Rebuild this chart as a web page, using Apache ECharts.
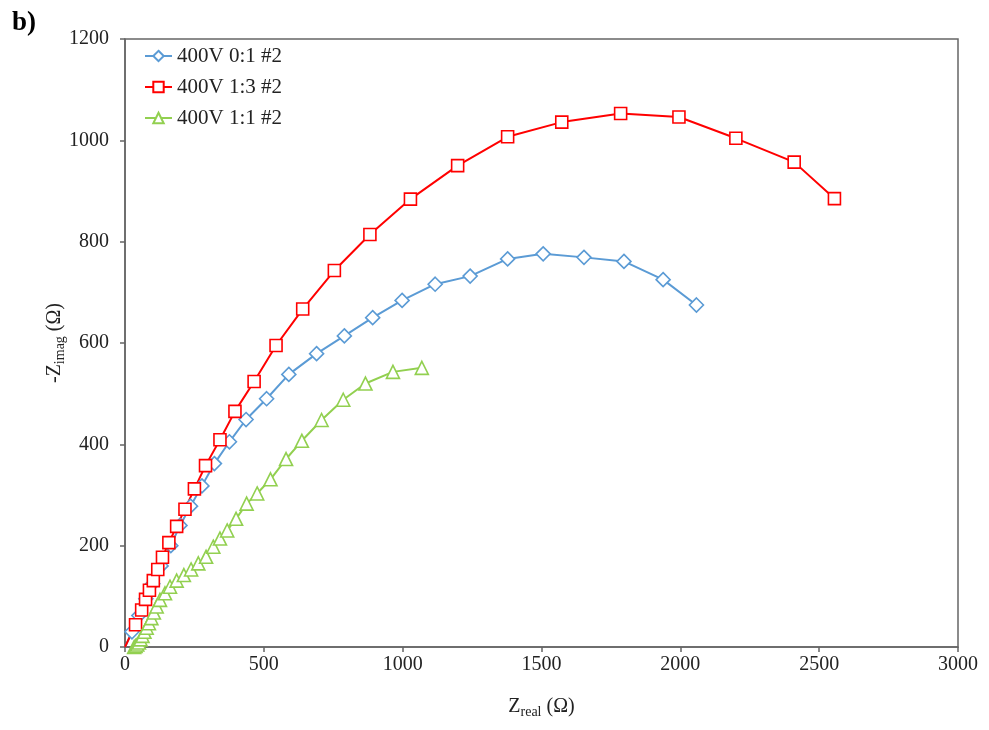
<!DOCTYPE html>
<html>
<head>
<meta charset="utf-8">
<script src="https://cdn.jsdelivr.net/npm/echarts@6/dist/echarts.min.js"></script>
<style>
html,body{margin:0;padding:0;background:#fff;}
#c{width:989px;height:730px;}
</style>
</head>
<body>
<div id="c"></div>
<script>
const seriesNames = ['400V 0:1 #2', '400V 1:3 #2', '400V 1:1 #2'];
const blueData = [[0,0],[25,30],[50,62],[75,95],[100,125],[130,160],[165,200],[198,240],[236,278],[277,318],[322,362],[376,405],[436,449],[510,490],[590,538],[690,579],[790,614],[892,650],[998,684],[1117,716],[1243,732],[1378,766],[1506,776],[1653,769],[1797,761],[1938,725],[2058,675]];
const redData = [[0,0],[38,44],[60,73],[74,94],[88,112],[102,131],[118,153],[135,177],[158,206],[186,238],[216,272],[250,312],[290,358],[342,409],[396,465],[465,524],[544,595],[640,667],[754,743],[882,814],[1028,884],[1198,950],[1378,1007],[1573,1036],[1785,1053],[1995,1046],[2200,1004],[2410,957],[2555,885]];
const greenData = [[33,0],[38,2],[44,5],[50,9],[56,15],[63,22],[70,30],[78,38],[86,47],[95,57],[104,68],[114,80],[126,93],[144,106],[162,119],[186,131],[212,142],[238,153],[264,165],[292,178],[318,198],[342,214],[368,230],[400,253],[438,283],[476,303],[524,331],[580,371],[637,407],[708,448],[786,488],[866,520],[965,543],[1069,551]];
const xTicks = {min:0, max:3000, interval:500};
const yTicks = {min:0, max:1200, interval:200};

const serif = '"Liberation Serif","Times New Roman",serif';
const chart = echarts.init(document.getElementById('c'));
const mk = (name, data, color, symbol, size, hideFirst) => ({
  name, type:'line', data, symbol,
  symbolSize: hideFirst ? ((v, p) => (p && p.dataIndex === 0 ? 0 : size)) : size,
  showAllSymbol:true,
  lineStyle:{color, width:2}, itemStyle:{color:'#fff', borderColor:color, borderWidth:1.6},
  emphasis:{disabled:true}, animation:false
});
const subRich = {sub:{fontFamily:serif, fontSize:14, color:'#222', verticalAlign:'bottom', padding:[10,0,0,0]}};
chart.setOption({
  animation:false,
  graphic:[{type:'text', left:12, top:10, style:{text:'b)', font:'bold 27px '+serif, fill:'#000'}}],
  grid:{left:125, right:31, top:39, bottom:83, show:true, borderColor:'#666', borderWidth:1.5, backgroundColor:'transparent'},
  legend:{
    left:139, top:40, orient:'vertical', itemGap:9, itemWidth:27, itemHeight:13,
    textStyle:{fontFamily:serif, fontSize:21, color:'#222', lineHeight:22},
    data:seriesNames
  },
  xAxis:{
    type:'value', min:xTicks.min, max:xTicks.max, interval:xTicks.interval,
    splitLine:{show:false},
    axisLine:{lineStyle:{color:'#666', width:1.5}},
    axisTick:{length:5, lineStyle:{color:'#666', width:1.5}},
    axisLabel:{fontFamily:serif, fontSize:20, color:'#222', margin:8, formatter:v=>String(v)},
    name:'Z{sub|real} (Ω)', nameLocation:'middle', nameGap:48, nameMoveOverlap:false,
    nameTextStyle:{fontFamily:serif, fontSize:20, color:'#222', rich:subRich}
  },
  yAxis:{
    type:'value', min:yTicks.min, max:yTicks.max, interval:yTicks.interval,
    splitLine:{show:false},
    axisLine:{lineStyle:{color:'#666', width:1.5}},
    axisTick:{length:5, lineStyle:{color:'#666', width:1.5}},
    axisLabel:{fontFamily:serif, fontSize:20, color:'#222', margin:16, formatter:v=>String(v)},
    name:'-Z{sub|imag} (Ω)', nameLocation:'middle', nameGap:58, nameRotate:90, nameMoveOverlap:false,
    nameTextStyle:{fontFamily:serif, fontSize:20, color:'#222', rich:subRich}
  },
  series:[
    mk(seriesNames[0], blueData, '#5B9BD5', 'diamond', 14, true),
    mk(seriesNames[1], redData, '#FF0000', 'rect', 12, true),
    mk(seriesNames[2], greenData, '#92D050', 'triangle', 13, false)
  ]
});
</script>
</body>
</html>
